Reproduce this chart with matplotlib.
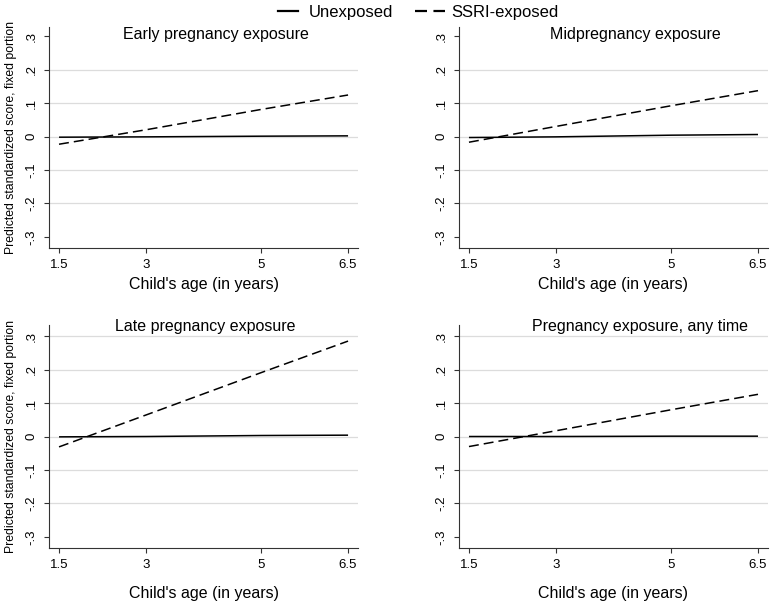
import matplotlib
matplotlib.use("Agg")
import matplotlib.pyplot as plt
from matplotlib.lines import Line2D

plt.rcParams["font.family"] = ["Liberation Sans", "DejaVu Sans"]

ages = [1.5, 3, 5, 6.5]
age_ticks = [1.5, 3, 5, 6.5]
age_tick_labels = ["1.5", "3", "5", "6.5"]
y_ticks = [-0.3, -0.2, -0.1, 0, 0.1, 0.2, 0.3]
y_tick_labels = ["-.3", "-.2", "-.1", "0", ".1", ".2", ".3"]

titles = [
    "Early pregnancy exposure",
    "Midpregnancy exposure",
    "Late pregnancy exposure",
    "Pregnancy exposure, any time",
]
unexposed_early = [-0.002, -0.001, 0.001, 0.002]
unexposed_mid = [-0.003, -0.001, 0.004, 0.006]
unexposed_late = [-0.001, 0.000, 0.003, 0.004]
unexposed_any = [0.000, 0.000, 0.001, 0.001]
ssri_early = [-0.023, 0.020, 0.081, 0.124]
ssri_mid = [-0.017, 0.030, 0.092, 0.137]
ssri_late = [-0.031, 0.064, 0.191, 0.285]
ssri_any = [-0.030, 0.017, 0.080, 0.126]

unexposed = [unexposed_early, unexposed_mid, unexposed_late, unexposed_any]
ssri = [ssri_early, ssri_mid, ssri_late, ssri_any]

fig = plt.figure(figsize=(7.71, 6.02), dpi=100)

# panel boxes in figure fractions (left, bottom, width, height)
boxes = [
    (0.0636, 0.588, 0.4008, 0.3671),
    (0.5953, 0.588, 0.4008, 0.3671),
    (0.0636, 0.0897, 0.4008, 0.3704),
    (0.5953, 0.0897, 0.4008, 0.3704),
]
ylims = [(-0.333, 0.327), (-0.333, 0.327), (-0.333, 0.333), (-0.333, 0.333)]
# top row title hides the .3 gridline; -.3 never gets one
grid_top = [[-0.2, -0.1, 0, 0.1, 0.2]] * 2
grid_bot = [[-0.2, -0.1, 0, 0.1, 0.2, 0.3]] * 2
grids = grid_top + grid_bot
title_x = [216, 635, 205, 640]
title_y = [35, 35, 327, 327]
xlabel_y = [-0.167, -0.167, -0.202, -0.202]

dash = (6.5, 3.3)
for i in range(4):
    ax = fig.add_axes(boxes[i])
    for g in grids[i]:
        ax.axhline(g, color="#dcdcdc", lw=0.9, zorder=0)
    ax.plot(ages, unexposed[i], color="black", lw=1.1, solid_capstyle="butt")
    ax.plot(ages, ssri[i], color="black", lw=1.1, dashes=dash)
    ax.set_xlim(1.327, 6.673)
    ax.set_ylim(*ylims[i])
    ax.set_xticks(age_ticks)
    ax.set_xticklabels(age_tick_labels, fontsize=9.5)
    ax.set_yticks(y_ticks)
    ax.set_yticklabels(y_tick_labels, fontsize=9.5, rotation=90, va="center")
    for s in ["top", "right"]:
        ax.spines[s].set_visible(False)
    for s in ["left", "bottom"]:
        ax.spines[s].set_color("#333333")
        ax.spines[s].set_linewidth(0.8)
    ax.tick_params(direction="out", length=3.6, width=0.8, color="#333333")
    ax.tick_params(axis="x", pad=4)
    ax.tick_params(axis="y", pad=4.5)
    ax.set_xlabel("Child's age (in years)", fontsize=11.5, va="center")
    ax.xaxis.set_label_coords(0.5, xlabel_y[i])
    if i % 2 == 0:
        ax.set_ylabel("Predicted standardized score, fixed portion", fontsize=8.8, labelpad=6)
    fig.text(title_x[i] / 771, 1 - title_y[i] / 602, titles[i],
             ha="center", va="center", fontsize=11.5)

leg1 = fig.legend([Line2D([], [], color="black", lw=1.6)], ["Unexposed"],
                  loc="center left", bbox_to_anchor=(278 / 771, 0.980),
                  frameon=False, fontsize=12, handlelength=1.2,
                  handletextpad=0.62, borderaxespad=0, borderpad=0)
fig.legend([Line2D([], [], color="black", lw=1.6, dashes=(5.4, 2.9))], ["SSRI-exposed"],
           loc="center left", bbox_to_anchor=(415 / 771, 0.980),
           frameon=False, fontsize=12, handlelength=1.8,
           handletextpad=0.36, borderaxespad=0, borderpad=0)

fig.savefig("out.png", dpi=100)
